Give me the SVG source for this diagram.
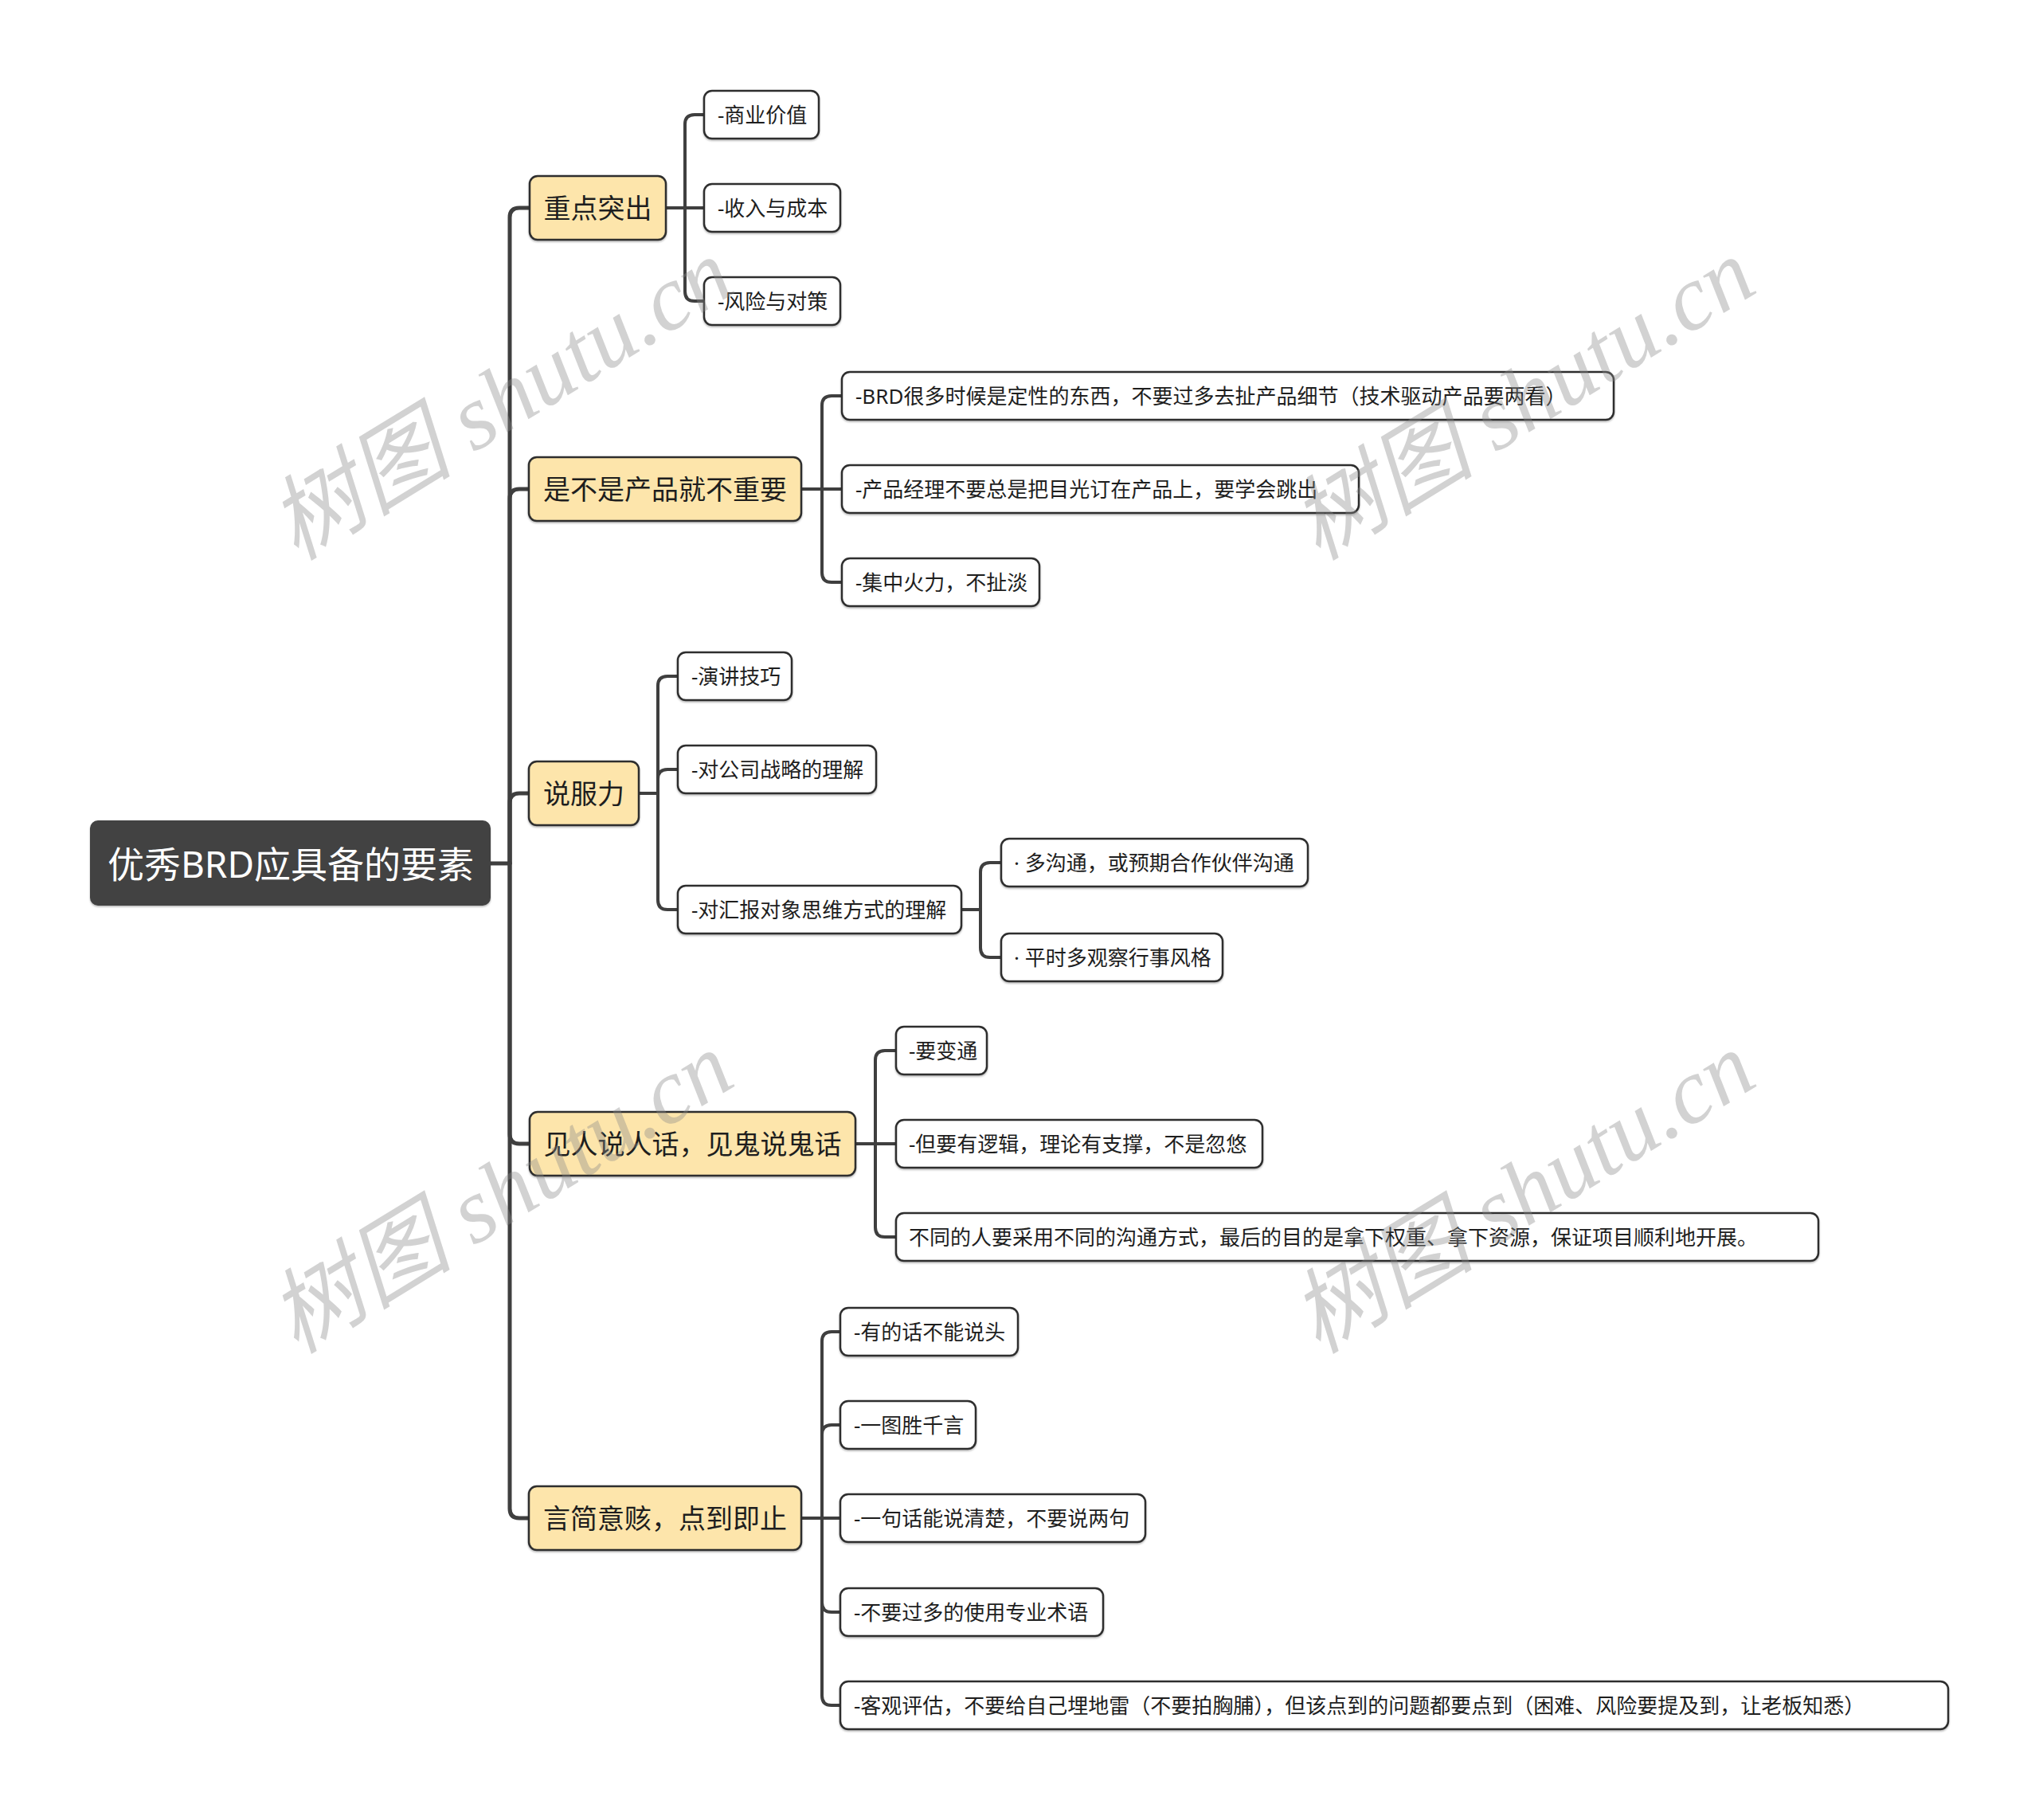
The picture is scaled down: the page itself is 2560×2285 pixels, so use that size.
<svg xmlns="http://www.w3.org/2000/svg" width="2560" height="2285" viewBox="0 0 2560 2285">
<defs>
<filter id="sh" x="-5%" y="-20%" width="110%" height="150%">
<feDropShadow dx="0" dy="1.5" stdDeviation="1" flood-color="#000" flood-opacity="0.3"/>
</filter>
<style>
.conn{fill:none;stroke:#3f3f3f;stroke-width:4;stroke-linecap:round;stroke-linejoin:round}
.trunk{fill:none;stroke:#3f3f3f;stroke-width:5;stroke-linecap:round;stroke-linejoin:round}
.root rect{fill:#424242;filter:url(#sh)}
.root text{fill:#ffffff;font-size:46px}
.l1 rect{fill:#fde5ab;stroke:#2e2e2e;stroke-width:2.5;filter:url(#sh)}
.l1 text{fill:#1e1e1e;font-size:34px}
.l2 rect{fill:#ffffff;stroke:#2e2e2e;stroke-width:2.5;filter:url(#sh)}
.l2 text{fill:#1e1e1e;font-size:26px}
text{font-family:"Noto Sans","Noto Sans CJK SC",sans-serif}
.ctr{text-anchor:middle;dominant-baseline:central}
.lft{dominant-baseline:central}
.wm{font-family:"Liberation Serif","Noto Sans CJK SC",serif;font-size:116px;font-style:italic;fill:#8a8a8a;fill-opacity:0.38}
</style>
</defs>
<rect width="2560" height="2285" fill="#ffffff"/>

<g id="connectors">
<path class="trunk" d="M616,1084 H640 V273 Q640,261 652,261 H664"/>
<path class="trunk" d="M640,1084 V626 Q640,614 652,614 H664"/>
<path class="trunk" d="M640,1084 V1008 Q640,996 652,996 H664"/>
<path class="trunk" d="M640,1084 V1424 Q640,1436 652,1436 H664"/>
<path class="trunk" d="M640,1084 V1894 Q640,1906 652,1906 H664"/>

<path class="conn" d="M836,261 H860 V156 Q860,144 872,144 H884"/>
<path class="conn" d="M836,261 H884"/>
<path class="conn" d="M860,261 V366 Q860,378 872,378 H884"/>

<path class="conn" d="M1006,614 H1032 V509 Q1032,497 1044,497 H1057"/>
<path class="conn" d="M1006,614 H1057"/>
<path class="conn" d="M1032,614 V719 Q1032,731 1044,731 H1057"/>

<path class="conn" d="M802,996 H826 V861 Q826,849 838,849 H851"/>
<path class="conn" d="M826,996 V978 Q826,966 838,966 H851"/>
<path class="conn" d="M826,996 V1130 Q826,1142 838,1142 H851"/>

<path class="conn" d="M1207,1142 H1231 V1095 Q1231,1083 1243,1083 H1257"/>
<path class="conn" d="M1231,1142 V1190 Q1231,1202 1243,1202 H1257"/>

<path class="conn" d="M1074,1436 H1099 V1331 Q1099,1319 1111,1319 H1125"/>
<path class="conn" d="M1074,1436 H1125"/>
<path class="conn" d="M1099,1436 V1541 Q1099,1553 1111,1553 H1125"/>

<path class="conn" d="M1006,1906 H1032 V1684 Q1032,1672 1044,1672 H1055"/>
<path class="conn" d="M1032,1906 V1801 Q1032,1789 1044,1789 H1055"/>
<path class="conn" d="M1006,1906 H1055"/>
<path class="conn" d="M1032,1906 V2012 Q1032,2024 1044,2024 H1055"/>
<path class="conn" d="M1032,1906 V2129 Q1032,2141 1044,2141 H1055"/>
</g>

<g id="root" class="root">
<rect x="113" y="1030" width="503" height="107" rx="10"/>
<text class="ctr" x="365" y="1084">优秀BRD应具备的要素</text>
</g>

<g id="n1" class="l1"><rect x="665" y="221" width="171" height="80" rx="10"/><text class="ctr" x="750.5" y="261">重点突出</text></g>
<g id="n2" class="l1"><rect x="664" y="574" width="342" height="80" rx="10"/><text class="ctr" x="835" y="614">是不是产品就不重要</text></g>
<g id="n3" class="l1"><rect x="664" y="956" width="138" height="80" rx="10"/><text class="ctr" x="733" y="996">说服力</text></g>
<g id="n4" class="l1"><rect x="665" y="1396" width="409" height="80" rx="10"/><text class="ctr" x="869.5" y="1436">见人说人话，见鬼说鬼话</text></g>
<g id="n5" class="l1"><rect x="664" y="1866" width="342" height="80" rx="10"/><text class="ctr" x="835" y="1906">言简意赅，点到即止</text></g>

<g id="n1a" class="l2"><rect x="884" y="114" width="144" height="60" rx="10"/><text class="lft" x="901" y="144">-商业价值</text></g>
<g id="n1b" class="l2"><rect x="884" y="231" width="171" height="60" rx="10"/><text class="lft" x="901" y="261">-收入与成本</text></g>
<g id="n1c" class="l2"><rect x="884" y="348" width="171" height="60" rx="10"/><text class="lft" x="901" y="378">-风险与对策</text></g>

<g id="n2a" class="l2"><rect x="1057" y="467" width="969" height="60" rx="10"/><text class="lft" x="1074" y="497">-BRD很多时候是定性的东西，不要过多去扯产品细节（技术驱动产品要两看）</text></g>
<g id="n2b" class="l2"><rect x="1057" y="584" width="649" height="60" rx="10"/><text class="lft" x="1074" y="614">-产品经理不要总是把目光订在产品上，要学会跳出</text></g>
<g id="n2c" class="l2"><rect x="1057" y="701" width="248" height="60" rx="10"/><text class="lft" x="1074" y="731">-集中火力，不扯淡</text></g>

<g id="n3a" class="l2"><rect x="851" y="819" width="143" height="60" rx="10"/><text class="lft" x="868" y="849">-演讲技巧</text></g>
<g id="n3b" class="l2"><rect x="851" y="936" width="249" height="60" rx="10"/><text class="lft" x="868" y="966">-对公司战略的理解</text></g>
<g id="n3c" class="l2"><rect x="851" y="1112" width="356" height="60" rx="10"/><text class="lft" x="868" y="1142">-对汇报对象思维方式的理解</text></g>
<g id="n3c1" class="l2"><rect x="1257" y="1053" width="385" height="60" rx="10"/><text class="lft" x="1273" y="1083">· 多沟通，或预期合作伙伴沟通</text></g>
<g id="n3c2" class="l2"><rect x="1257" y="1172" width="278" height="60" rx="10"/><text class="lft" x="1273" y="1202">· 平时多观察行事风格</text></g>

<g id="n4a" class="l2"><rect x="1125" y="1289" width="114" height="60" rx="10"/><text class="lft" x="1141" y="1319">-要变通</text></g>
<g id="n4b" class="l2"><rect x="1125" y="1406" width="460" height="60" rx="10"/><text class="lft" x="1141" y="1436">-但要有逻辑，理论有支撑，不是忽悠</text></g>
<g id="n4c" class="l2"><rect x="1125" y="1523" width="1158" height="60" rx="10"/><text class="lft" x="1141" y="1553">不同的人要采用不同的沟通方式，最后的目的是拿下权重、拿下资源，保证项目顺利地开展。</text></g>

<g id="n5a" class="l2"><rect x="1055" y="1642" width="223" height="60" rx="10"/><text class="lft" x="1072" y="1672">-有的话不能说头</text></g>
<g id="n5b" class="l2"><rect x="1055" y="1759" width="170" height="60" rx="10"/><text class="lft" x="1072" y="1789">-一图胜千言</text></g>
<g id="n5c" class="l2"><rect x="1055" y="1876" width="383" height="60" rx="10"/><text class="lft" x="1072" y="1906">-一句话能说清楚，不要说两句</text></g>
<g id="n5d" class="l2"><rect x="1055" y="1994" width="330" height="60" rx="10"/><text class="lft" x="1072" y="2024">-不要过多的使用专业术语</text></g>
<g id="n5e" class="l2"><rect x="1055" y="2111" width="1391" height="60" rx="10"/><text class="lft" x="1072" y="2141">-客观评估，不要给自己埋地雷（不要拍胸脯），但该点到的问题都要点到（困难、风险要提及到，让老板知悉）</text></g>

<g id="watermark">
<text class="wm" x="372" y="705" transform="rotate(-31.5 372 705)">树图 shutu.cn</text>
<text class="wm" x="1655" y="705" transform="rotate(-31.5 1655 705)">树图 shutu.cn</text>
<text class="wm" x="372" y="1701" transform="rotate(-31.5 372 1701)">树图 shutu.cn</text>
<text class="wm" x="1655" y="1701" transform="rotate(-31.5 1655 1701)">树图 shutu.cn</text>
</g>
</svg>
